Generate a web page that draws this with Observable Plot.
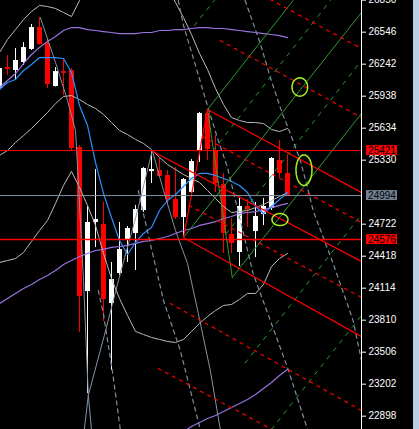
<!DOCTYPE html>
<html><head><meta charset="utf-8">
<script src="https://cdn.jsdelivr.net/npm/d3@7"></script>
<script src="https://cdn.jsdelivr.net/npm/@observablehq/plot@0.6"></script>
<style>
html,body{margin:0;padding:0;background:#000;overflow:hidden}
#wrap{display:flex;width:419px;height:429px}
#chart{width:413px;height:429px}
#strip{width:6px;height:429px;background:#b9cfe6}
</style></head><body>
<div id="wrap"><div id="chart"></div><div id="strip"></div></div>
<script>
// ---- candles (index 0..36) ----
const open  = [26011,26210,26182,26258,26382,26590,26438,26030,26172,26182,25450,24082,24738,24719,23968,24253,24567,24633,24852,25222,25232,25184,24956,24785,25023,25422,25773,25422,25099,24624,24453,24890,24652,24814,24871,25327,25203];
const high  = [26220,26324,26391,26448,26619,26685,26486,26210,26286,26201,25469,24890,25241,24928,24358,24738,24700,24900,25260,25412,25355,25232,25260,25156,25336,25783,25811,25564,25203,24776,24966,24956,24928,24966,25355,25517,25374];
const low   = [25992,26134,26087,26230,26372,26420,26011,26025,25944,25422,23693,23114,24500,23797,23332,24234,24358,24282,24833,25108,25170,24909,24766,24596,25013,25308,25327,25023,24443,24443,24320,24690,24405,24709,24852,25156,24994];
const close = [26201,26192,26277,26400,26590,26429,26049,26172,26154,25441,24035,24738,24766,24006,24196,24481,24681,24861,25251,25241,25175,24956,24785,25146,25317,25773,25431,25108,24633,24538,24890,24861,24795,24890,25346,25203,24994];

// ---- indicator series (per candle) ----
const maBlue = [26001,26068,26097,26182,26239,26305,26305,26305,26296,26163,25850,25660,25308,25014,24786,24567,24434,24548,24634,24691,24852,24947,25004,25080,25156,25204,25204,25185,25156,25127,25090,25023,24890,24823,24890,24956,25023];
const purpleTop = [26020,26087,26153,26248,26334,26400,26457,26505,26562,26590,26590,26571,26562,26552,26543,26533,26533,26533,26543,26543,26562,26562,26571,26571,26581,26590,26590,26581,26581,26571,26562,26552,26543,26533,26524,26514,26495];
const purpleMid = [23968,24016,24063,24111,24149,24197,24235,24282,24339,24377,24415,24444,24472,24482,24501,24510,24520,24539,24558,24567,24586,24605,24633,24662,24681,24710,24728,24747,24776,24795,24823,24833,24842,24861,24880,24900,24919];
const purpleLow = [null,null,null,null,null,null,null,null,null,null,null,null,null,null,null,null,null,null,null,null,null,null,22714,22752,22800,22838,22876,22904,22943,22981,23019,23057,23104,23161,23218,23285,23342];
const bbUpper = [26353,26476,26571,26666,26742,26800,26790,26771,26733,26695,26847,26990,27132,27275,27370,27417,27417,27370,27322,27227,27113,26980,26828,26685,26524,26344,26192,26011,25859,25735,25707,25688,25688,25678,25622,25602,25631];
const bbMid = [25375,25422,25498,25564,25631,25707,25783,25868,25935,25944,25906,25859,25821,25764,25688,25612,25574,25527,25489,25431,25356,25289,25241,25194,25156,25118,25042,24966,24890,24833,24842,24852,24880,24909,24947,24985,25023];
const bbLower = [24358,24377,24396,24453,24558,24662,24757,24919,25090,25223,25071,24900,24710,24444,24206,24016,23855,23703,23674,23646,23627,23608,23598,23627,23703,23779,23845,23902,23950,23959,24007,24064,24064,24149,24320,24396,24444];

// ---- drawn objects: [index, price] points ----
const redSolid = [
  [[23,24596],[26,25811]],
  [[26,25811],[45.25,25023]],
  [[19,25420],[45.25,24367]],
  [[23,24596],[45.25,23655]]
];
const redDashed = [
  [[33.85,26856],[45.25,26391]],
  [[27.6,26467],[45.25,25735]],
  [[25.35,25555],[45.25,24738]],
  [[23.7,24900],[45.25,24026]],
  [[21.35,23969],[45.25,22952]],
  [[19.85,23351],[45.25,22316]]
];
const greenSolid = [
  [[26,25811],[29.1,24216]],
  [[26,25811],[36.7,26847]],
  [[23,24596],[45.25,26733]],
  [[29.1,24216],[45.25,25774]]
];
const greenDashed = [
  [[24.35,26610],[26.85,26847]],
  [[26.7,25422],[41.35,26847]],
  [[28.3,24629],[45.25,26277]],
  [[30.7,23403],[45.25,24814]],
  [[33.98,22772],[45.25,23855]]
];
const steelSolid = [
  [[19.1,25422],[17.1,24805],[15.1,24254],[13.1,23665],[11.1,23095],[10.6,22772]],
  [[19.1,25422],[20.5,25042],[22,24662],[23.5,24349],[24.85,23874],[26.35,23332],[27.6,22772]],
  [[5.1,26686],[7,26258],[8.5,25897],[9.5,25612],[9.85,25137],[10.5,24187],[11.1,23095],[11.5,22772]]
];
const steelDashed = [
  [[22.35,26847],[23,26610],[24.5,26230],[26.1,25821],[27.35,25517],[28.5,25261],[29.5,24947],[30.5,24634],[31.7,24254],[33.85,23807],[36,23361],[38.5,22772]],
  [[30.7,26847],[32.6,26439],[33.85,26116],[35.35,25774],[36.35,25584],[37.6,25327],[38.5,25071],[39.2,24852],[41.7,24349],[44.2,23807],[45.25,23427]],
  [[17.35,25042],[17.98,24824],[20.5,23997],[22.6,23522],[25.1,22772]],
  [[12.35,24092],[12.98,23874],[14.1,23332],[15.1,22772]]
];
const hLineValues = [25421, 24994, 24576];
const labelValues = [25421, 24994, 24576];
const yTicks = [26850,26546,26242,25938,25634,25330,24722,24418,24114,23810,23506,23202,22898];
const ellipseX = [37.54, 38.06, 35.06];
const ellipseY = [26025, 25235, 24766];
const ellipseRX = [0.975, 1.0, 1.0];
const ellipseRY = [87, 145, 57];

// ---- build ----
const idx = d3.range(open.length);
const candles = idx.map(i => ({i, open: open[i], high: high[i], low: low[i], close: close[i]}));
const candleColor = d => d.close >= d.open ? "#ffffff" : "#ff0000";
const xMax = 45.25;
const ellipsePts = [];
ellipseX.forEach((cx, k) => {
  for (let j = 0; j <= 48; j++) {
    const t = j / 48 * 2 * Math.PI;
    ellipsePts.push({k, x: cx + ellipseRX[k] * Math.cos(t), y: ellipseY[k] + ellipseRY[k] * Math.sin(t)});
  }
});
const lineMarks = (list, opts) => list.map(pts => Plot.line(pts, {clip: true, ...opts}));
const series = (arr, opts) => Plot.line(idx, {x: i => i, y: i => arr[i], clip: true, ...opts});
const hColors = ["#ff0000", "#7f8fa0", "#ff0000"];
const hWidths = [1, 1, 1.6];
const labelBg = ["#ff0000", "#708090", "#ff0000"];

const chart = Plot.plot({
  width: 413, height: 429,
  marginLeft: 0, marginRight: 52, marginTop: 0, marginBottom: 0,
  x: {domain: [0.125, xMax], axis: null},
  y: {domain: [22771.5, 26847], axis: null},
  style: {background: "#000", color: "#fff", fontFamily: "Liberation Sans, Arial, sans-serif", overflow: "hidden"},
  marks: [
    // candles
    Plot.ruleX(candles, {x: "i", y1: "low", y2: "high", stroke: candleColor, strokeWidth: 1}),
    Plot.ruleX(candles, {x: "i", y1: "open", y2: "close", stroke: candleColor, strokeWidth: 5}),
    // indicators
    series(bbUpper, {stroke: "#b9b9b9", strokeWidth: 1}),
    series(bbMid, {stroke: "#b9b9b9", strokeWidth: 1}),
    series(bbLower, {stroke: "#b9b9b9", strokeWidth: 1}),
    series(purpleTop, {stroke: "#9a72e0", strokeWidth: 1.2}),
    series(purpleMid, {stroke: "#9a72e0", strokeWidth: 1.2}),
    series(purpleLow, {stroke: "#9a72e0", strokeWidth: 1.2}),
    series(maBlue, {stroke: "#2a8fff", strokeWidth: 1.2}),
    // objects
    ...lineMarks(steelSolid, {stroke: "#8493a3", strokeWidth: 1}),
    ...lineMarks(steelDashed, {stroke: "#7d8da0", strokeWidth: 1.2, strokeDasharray: "4,4"}),
    ...lineMarks(greenDashed, {stroke: "#2f9a2f", strokeWidth: 1, strokeDasharray: "4,6"}),
    ...lineMarks(greenSolid, {stroke: "#2f9a2f", strokeWidth: 1}),
    ...lineMarks(redDashed, {stroke: "#ff0000", strokeWidth: 1.2, strokeDasharray: "3,5"}),
    ...lineMarks(redSolid, {stroke: "#ff0000", strokeWidth: 1.2}),
    Plot.ruleY(hLineValues, {y: d => d, stroke: (d, i) => hColors[i], strokeWidth: (d, i) => hWidths[i], clip: true}),
    Plot.line(ellipsePts, {x: "x", y: "y", z: "k", stroke: "#a6f020", strokeWidth: 1.5, clip: true}),
    // axis
    Plot.ruleX([xMax], {stroke: "#ffffff"}),
    Plot.axisY(yTicks, {anchor: "right", tickSize: 4, tickPadding: 3, fontSize: 10, label: null, tickFormat: d => String(d), stroke: "#fff", fill: "#fff"}),
    Plot.rect(labelValues, {x1: () => xMax, x2: () => xMax, y1: d => d, y2: d => d, insetLeft: 5, insetRight: -36, insetTop: -5, insetBottom: -5, fill: (d, i) => labelBg[i]}),
    Plot.text(labelValues, {x: () => xMax, y: d => d, dx: 20.5, text: d => String(d), fill: "#000", fontSize: 10, textAnchor: "middle"})
  ]
});
document.getElementById("chart").appendChild(chart);
</script></body></html>
